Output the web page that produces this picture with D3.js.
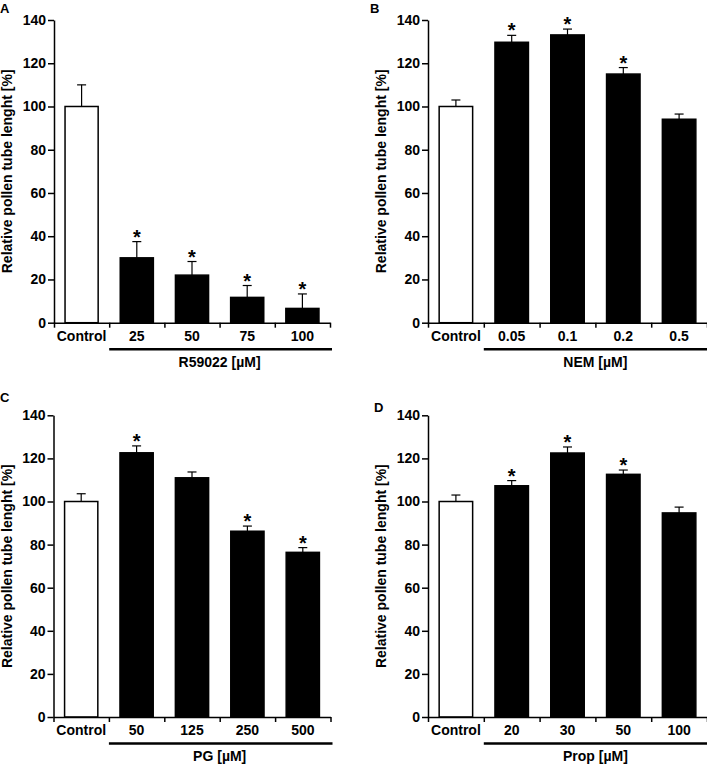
<!DOCTYPE html>
<html>
<head>
<meta charset="utf-8">
<script src="https://cdn.jsdelivr.net/npm/d3@7"></script>
<style>
  body { margin: 0; background: #fff; }
  svg text { font-family: "Liberation Sans", Arial, sans-serif; font-weight: 700; }
</style>
</head>
<body>
<div id="chart"></div>
<script>
// values (mean and upward error in %)
const catsA = ['Control', '25', '50', '75', '100']
const meansA = [100, 30, 22, 11.7, 6.6]
const errA = [10, 7.5, 6.3, 5.5, 6.7]
const sigA = [false, true, true, true, true]

const catsB = ['Control', '0.05', '0.1', '0.2', '0.5']
const meansB = [100, 129.7, 133.1, 115, 94.1]
const errB = [3, 3.2, 2.7, 3, 2.4]
const sigB = [false, true, true, true, false]

const catsC = ['Control', '50', '125', '250', '500']
const meansC = [100, 122.6, 111, 86.2, 76.4]
const errC = [3.6, 3.2, 2.7, 2.4, 2.2]
const sigC = [false, true, false, true, true]

const catsD = ['Control', '20', '30', '50', '100']
const meansD = [100, 107.3, 122.5, 112.6, 94.7]
const errD = [3, 2.4, 2.8, 2, 2.7]
const sigD = [false, true, true, true, false]

const yTicks = [0, 20, 40, 60, 80, 100, 120, 140]
const yLabel = 'Relative pollen tube lenght [%]'

const W = 707, H = 764
const svg = d3.select('#chart').append('svg').attr('width', W).attr('height', H)

function panel({ letter, lx, ly, x0, w, yTop, y0, cats, means, errs, sig, group }) {
  const g = svg.append('g')
  const y = d3.scaleLinear().domain([0, 140]).range([y0, yTop])
  const x = d3.scaleBand().domain(cats).range([x0, x0 + w]).paddingInner(0.4).paddingOuter(0.2)
  const edge = d3.scaleLinear().domain([0, cats.length]).range([x0, x0 + w])
  const rows = cats.map((c, i) => ({ c, m: means[i], e: errs[i], s: sig[i], ctrl: i === 0 }))
  const mid = d => x(d.c) + x.bandwidth() / 2

  // error bars (upward only)
  const eb = g.selectAll('g.err').data(rows).enter().append('g').attr('class', 'err')
    .attr('stroke', '#000').attr('stroke-width', 1.2)
  eb.append('line')
    .attr('x1', mid).attr('x2', mid)
    .attr('y1', d => y(d.m)).attr('y2', d => y(d.m + d.e))
  eb.append('line')
    .attr('x1', d => mid(d) - 4.5).attr('x2', d => mid(d) + 4.5)
    .attr('y1', d => y(d.m + d.e)).attr('y2', d => y(d.m + d.e))

  g.selectAll('rect').data(rows).enter().append('rect')
    .attr('x', d => x(d.c)).attr('width', x.bandwidth())
    .attr('y', d => y(d.m)).attr('height', d => y(0) - y(d.m))
    .attr('fill', d => d.ctrl ? '#fff' : '#000')
    .attr('stroke', '#000').attr('stroke-width', 1.5)

  g.selectAll('text.star').data(rows.filter(d => d.s)).enter().append('text')
    .attr('class', 'star')
    .attr('x', mid)
    .attr('y', d => y(d.m + d.e) + 2)
    .attr('text-anchor', 'middle').attr('font-size', 20).text('*')

  // y axis
  const ya = g.append('g').attr('transform', `translate(${x0},0)`)
    .call(d3.axisLeft(y).tickValues(yTicks).tickSize(6).tickPadding(2).tickSizeOuter(0))
  ya.attr('font-family', null)
  ya.select('.domain').attr('stroke-width', 1.5)
  ya.selectAll('.tick line').attr('stroke-width', 1.5)
  ya.selectAll('text').attr('font-size', 14).attr('fill', '#000')

  // x axis line with boundary ticks
  const xa = g.append('g').attr('transform', `translate(0,${y0})`)
    .call(d3.axisBottom(edge).tickValues(d3.range(cats.length + 1)).tickFormat('').tickSize(5).tickSizeOuter(0))
  xa.select('.domain').attr('stroke-width', 1.5)
  xa.selectAll('.tick line').attr('stroke-width', 1.5)

  const xl = g.append('g').attr('transform', `translate(0,${y0})`)
    .call(d3.axisBottom(x).tickSize(0).tickPadding(8))
  xl.attr('font-family', null)
  xl.select('.domain').remove()
  xl.selectAll('text').attr('font-size', 14).attr('fill', '#000')

  // treatment bracket
  g.append('line')
    .attr('x1', edge(1)).attr('x2', edge(cats.length) + 2)
    .attr('y1', y0 + 26.5).attr('y2', y0 + 26.5)
    .attr('stroke', '#000').attr('stroke-width', 2.5)
  g.append('text')
    .attr('x', (edge(1) + edge(cats.length)) / 2).attr('y', y0 + 44)
    .attr('text-anchor', 'middle').attr('font-size', 14).text(group)

  g.append('text')
    .attr('transform', `translate(${x0 - 42},${(y0 + yTop) / 2}) rotate(-90)`)
    .attr('text-anchor', 'middle').attr('font-size', 14).text(yLabel)

  g.append('text').attr('x', lx).attr('y', ly).attr('font-size', 13).text(letter)
}

panel({ letter: 'A', lx: 0, ly: 13, x0: 54, w: 276, yTop: 20, y0: 322.7,
  cats: catsA, means: meansA, errs: errA, sig: sigA, group: 'R59022 [µM]' })
panel({ letter: 'B', lx: 370, ly: 13, x0: 428, w: 279, yTop: 20, y0: 322.7,
  cats: catsB, means: meansB, errs: errB, sig: sigB, group: 'NEM [µM]' })
panel({ letter: 'C', lx: 0, ly: 402, x0: 53.5, w: 277, yTop: 415.3, y0: 717,
  cats: catsC, means: meansC, errs: errC, sig: sigC, group: 'PG [µM]' })
panel({ letter: 'D', lx: 374, ly: 412, x0: 428, w: 279, yTop: 415.3, y0: 717,
  cats: catsD, means: meansD, errs: errD, sig: sigD, group: 'Prop [µM]' })
</script>
</body>
</html>
